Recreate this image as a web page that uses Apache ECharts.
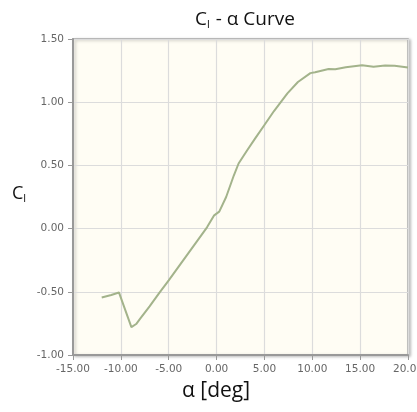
<!DOCTYPE html>
<html>
<head>
<meta charset="utf-8">
<script src="https://cdn.jsdelivr.net/npm/echarts@6/dist/echarts.min.js"></script>
<style>
  html, body { margin: 0; padding: 0; background: #ffffff; }
  #chart { width: 417px; height: 412px; }
</style>
</head>
<body>
<div id="chart"></div>
<script>
// Angle of attack (deg) and lift coefficient
const alpha = [-12, -11, -10.2, -8.9, -8.4, -8, -7, -6, -5, -4, -3, -2, -1, -0.25, 0.28, 1, 1.8, 2.3, 3.2, 4, 5, 6, 7.4, 8.5, 9.8, 10.3, 11.7, 12.4, 13.5, 15.2, 16.4, 17.6, 18.6, 20];
const cl    = [-0.545, -0.525, -0.505, -0.78, -0.755, -0.715, -0.615, -0.51, -0.41, -0.305, -0.2, -0.095, 0.01, 0.105, 0.134, 0.25, 0.42, 0.515, 0.62, 0.71, 0.82, 0.93, 1.07, 1.16, 1.23, 1.237, 1.262, 1.26, 1.276, 1.293, 1.281, 1.291, 1.288, 1.274];

const xTicks = { min: -15, max: 20, step: 5 };
const yTicks = { min: -1, max: 1.5, step: 0.5 };

const points = alpha.map((a, i) => [a, cl[i]]);

const chart = echarts.init(document.getElementById('chart'), null, { renderer: 'canvas' });

const labelStyle = {
  color: '#666',
  fontFamily: 'DejaVu Sans',
  fontSize: 10.5,
  formatter: v => v.toFixed(2)
};

chart.setOption({
  animation: false,
  title: {
    text: 'C{sub|l} - α Curve',
    left: 240,
    textAlign: 'center',
    top: 4,
    textStyle: {
      fontFamily: 'Open Sans',
      fontSize: 19,
      fontWeight: 'normal',
      color: '#111',
      rich: {
        sub: { fontFamily: 'Open Sans', fontSize: 11, color: '#111', verticalAlign: 'bottom', padding: [10, 1, 0, 0] }
      }
    }
  },
  grid: {
    left: 73, right: 9, top: 39, bottom: 57,
    outerBoundsMode: 'none',
    containLabel: false,
    show: true,
    backgroundColor: '#fffdf4',
    borderColor: '#a8a8a8',
    borderWidth: 1.5,
    shadowColor: 'rgba(0,0,0,0.25)',
    shadowBlur: 3,
    shadowOffsetX: 2,
    shadowOffsetY: 1
  },
  xAxis: {
    type: 'value',
    min: xTicks.min, max: xTicks.max, interval: xTicks.step,
    axisLine: { show: true, onZero: false, lineStyle: { color: '#999', width: 2 } },
    axisTick: { show: true, length: 5, lineStyle: { color: '#999' } },
    axisLabel: Object.assign({ margin: 9 }, labelStyle),
    splitLine: { show: true, lineStyle: { color: '#dcdcdc', width: 1.2 } }
  },
  yAxis: {
    type: 'value',
    min: yTicks.min, max: yTicks.max, interval: yTicks.step,
    axisLine: { show: true, onZero: false, lineStyle: { color: '#999', width: 2 } },
    axisTick: { show: true, length: 5, lineStyle: { color: '#999' } },
    axisLabel: Object.assign({ margin: 9 }, labelStyle),
    splitLine: { show: true, lineStyle: { color: '#dcdcdc', width: 1.2 } }
  },
  graphic: [
    {
      type: 'text',
      left: 12, top: 185,
      style: {
        text: 'C{sub|l}',
        fontFamily: 'Open Sans', fontSize: 18, fill: '#111',
        rich: { sub: { fontFamily: 'Open Sans', fontSize: 11, fill: '#111', verticalAlign: 'bottom', padding: [10, 0, 0, 0] } }
      }
    },
    {
      type: 'text',
      left: 182, top: 381,
      style: { text: 'α [deg]', fontFamily: 'Open Sans', fontSize: 21, fill: '#111' }
    }
  ],
  series: [{
    type: 'line',
    data: points,
    showSymbol: false,
    lineStyle: { color: '#a3b38b', width: 2 }
  }]
});
</script>
</body>
</html>
